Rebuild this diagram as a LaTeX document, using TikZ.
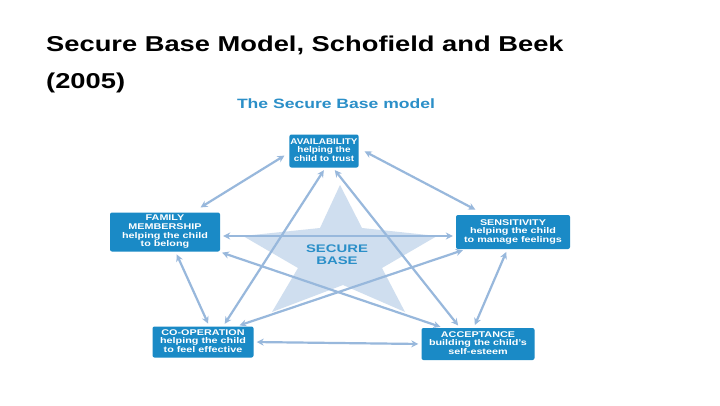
\documentclass[tikz,border=0pt]{standalone}
\usepackage{fontspec}
\setmainfont{Liberation Sans}
\usetikzlibrary{arrows.meta,calc}
\definecolor{boxblue}{HTML}{1A8AC6}
\definecolor{arrblue}{HTML}{98B8DC}
\definecolor{starblue}{HTML}{CFDEEF}
\definecolor{titleblue}{HTML}{2B8FC8}
\newcommand\wtxt[2][1.3]{\scalebox{#1}[1]{\begin{tabular}{@{}c@{}}#2\end{tabular}}}
\tikzset{
  box/.style={fill=boxblue,rounded corners=2pt,text=white,font=\bfseries\fontsize{8.3}{8.6}\selectfont,align=center,inner sep=1pt},
  link/.style={arrblue,line width=2.2pt,{Stealth[length=7pt,width=7pt]}-{Stealth[length=7pt,width=7pt]},shorten <=3pt,shorten >=3pt}
}
\begin{document}
\begin{tikzpicture}[x=1pt,y=-1pt]
\useasboundingbox (0,0) rectangle (720,405);
\fill[white] (0,0) rectangle (720,405);
\node[anchor=west,font=\bfseries\fontsize{21.5}{24}\selectfont,inner sep=0pt] (t1) at (46,47) {\wtxt[1.27]{Secure Base Model, Schofield and Beek}};
\node[anchor=west,font=\bfseries\fontsize{21.5}{24}\selectfont,inner sep=0pt] (t2) at (46,84) {\wtxt[1.27]{(2005)}};
\node[font=\bfseries\fontsize{13.5}{15}\selectfont,text=titleblue] (sub) at (336,105) {\wtxt{The Secure Base model}};
% star
\fill[starblue] (340,185) -- (362,228) -- (437,236) -- (382,268) -- (405,312) -- (343,285) -- (272,312) -- (298,268) -- (243,236) -- (320,228) -- cycle;
\node[font=\bfseries\fontsize{11}{12.5}\selectfont,text=titleblue] (sb) at (337,256) {\wtxt[1.35]{SECURE\\BASE}};
\node[box,minimum width=63pt,minimum height=33pt] (av) at (324,151) {\wtxt[1.2]{AVAILABILITY\\helping the\\child to trust}};
\node[box,minimum width=110pt,minimum height=39pt] (fm) at (165,232) {\wtxt{FAMILY\\MEMBERSHIP\\helping the child\\to belong}};
\node[box,minimum width=114pt,minimum height=34pt] (se) at (513,232) {\wtxt{SENSITIVITY\\helping the child\\to manage feelings}};
\node[box,minimum width=101pt,minimum height=31pt] (co) at (203,342) {\wtxt{CO-OPERATION\\helping the child\\to feel effective}};
\node[box,minimum width=113pt,minimum height=32pt] (ac) at (478,344) {\wtxt{ACCEPTANCE\\building the child's\\self-esteem}};
\coordinate (avl) at (287,154); \coordinate (fmt) at (198,209);
\draw[link] (avl) -- (fmt);
\coordinate (avr) at (362,150); \coordinate (set) at (478,211);
\draw[link] (avr) -- (set);
\draw[link] (fm.-62) -- (co.68);
\draw[link] (se.-108) -- (ac.105);
\draw[link] (co.east) -- (ac.west);
\draw[link] ([yshift=-4pt]fm.east) -- ([yshift=-4pt]se.west);
\draw[link] (av.-85) -- (co.38);
\draw[link] (av.-62) -- (ac.138);
\draw[link] (fm.-20) -- (ac.155);
\draw[link] (se.-160) -- (co.25);
\end{tikzpicture}
\end{document}
